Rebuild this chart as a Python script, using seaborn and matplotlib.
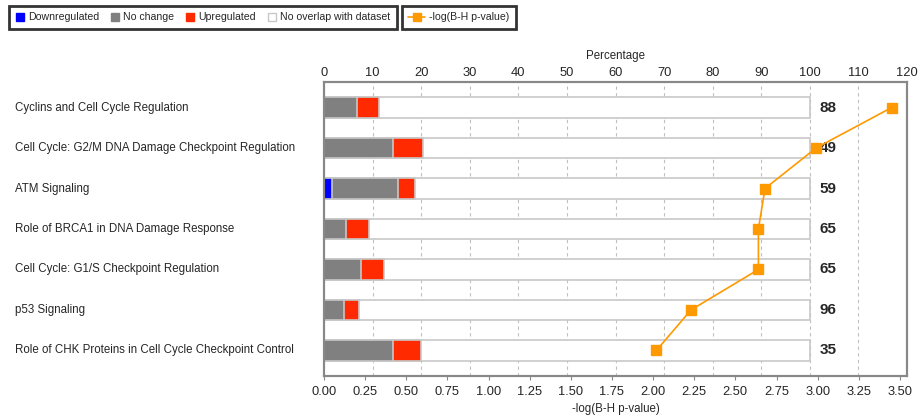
import numpy as np
import pandas as pd
import matplotlib
matplotlib.use("Agg")
import matplotlib.pyplot as plt
from matplotlib.lines import Line2D
from matplotlib.transforms import blended_transform_factory
import seaborn as sb

### DATA
pathways = [
    "Cyclins and Cell Cycle Regulation",
    "Cell Cycle: G2/M DNA Damage Checkpoint Regulation",
    "ATM Signaling",
    "Role of BRCA1 in DNA Damage Response",
    "Cell Cycle: G1/S Checkpoint Regulation",
    "p53 Signaling",
    "Role of CHK Proteins in Cell Cycle Checkpoint Control",
]
downregulated = [0.0, 0.0, 1.7, 0.0, 0.0, 0.0, 0.0]
no_change = [6.8, 14.3, 13.6, 4.6, 7.7, 4.2, 14.3]
upregulated = [4.5, 6.1, 3.4, 4.6, 4.6, 3.1, 5.7]
total_genes = [88, 49, 59, 65, 65, 96, 35]
neg_log_p = [3.45, 2.99, 2.68, 2.64, 2.64, 2.23, 2.02]

C_BLUE = "#0000ff"
C_GRAY = "#808080"
C_RED = "#ff2a00"
C_ORANGE = "#ff9900"
C_EDGE = "#c8c8c8"
C_AXIS = "#888888"
FS = 8.3      # pathway names / axis titles
FS_TICK = 9.3
FS_LEG = 7.6

sb.set_style("white")
plt.rcParams["font.family"] = ["Liberation Sans", "DejaVu Sans"]

df = pd.DataFrame({
    "pathway": pathways,
    "down": downregulated,
    "nochange": no_change,
    "up": upregulated,
})
df["cum_gray"] = df["down"] + df["nochange"]
df["cum_red"] = df["cum_gray"] + df["up"]
df["full"] = 100.0

fig = plt.figure(figsize=(9.19, 4.18), dpi=100)
ax = fig.add_axes([324 / 919, 1 - 376 / 418, 583 / 919, 294 / 418])
ax2 = ax.twiny()

# stacked bars, longest first
layers = [("full", "white"), ("cum_red", C_RED), ("cum_gray", C_GRAY), ("down", C_BLUE)]
for col, colr in layers:
    sb.barplot(data=df, x=col, y="pathway", orient="h", color=colr, width=0.5,
               edgecolor=C_EDGE, linewidth=1.2, ax=ax, saturation=1)

ax.set_xlim(0, 120)
ax.set_ylim(6.63, -0.63)
ax.set_xticks(np.arange(0, 121, 10))
ax.xaxis.tick_top()
ax.xaxis.set_label_position("top")
ax.set_xlabel("Percentage", fontsize=FS, labelpad=6)
ax.set_ylabel("")
ax.set_yticks([])
ax.tick_params(axis="x", labelsize=FS_TICK, length=0, pad=2)
ax.grid(axis="x", linestyle=(0, (3, 3)), color="#c0c0c0", linewidth=0.8)
ax.set_axisbelow(True)
for s in ax.spines.values():
    s.set_color(C_AXIS)
    s.set_linewidth(1.5)

# pathway labels and gene counts
lab_tr = blended_transform_factory(fig.transFigure, ax.transData)
for i, (name, n) in enumerate(zip(pathways, total_genes)):
    ax.text(15 / 919, i, name, transform=lab_tr, ha="left", va="center", fontsize=FS)
    ax.text(102, i, str(n), ha="left", va="center", fontsize=11, fontweight="bold")

# -log p line on bottom axis
ax2.plot(neg_log_p, np.arange(len(pathways)), color=C_ORANGE, marker="s",
         markersize=6.5, linewidth=1.2, zorder=5)
ax2.set_xlim(0, 3.543)
ax2.set_ylim(6.63, -0.63)
ticks2 = np.arange(0, 3.51, 0.25)
ax2.set_xticks(ticks2)
ax2.set_xticklabels([f"{v:.2f}" for v in ticks2])
ax2.xaxis.tick_bottom()
ax2.xaxis.set_label_position("bottom")
ax2.set_xlabel("-log(B-H p-value)", fontsize=FS, labelpad=4)
ax2.tick_params(axis="x", labelsize=FS_TICK, length=3, color=C_AXIS, pad=4)
for s in ax2.spines.values():
    s.set_color(C_AXIS)
    s.set_linewidth(1.5)

# legends
h1 = [Line2D([], [], linestyle="none", marker="s", markersize=5.5, markerfacecolor=c,
             markeredgecolor=e) for c, e in
      [(C_BLUE, C_BLUE), (C_GRAY, C_GRAY), (C_RED, C_RED), ("white", C_EDGE)]]
leg1 = fig.legend(h1, ["Downregulated", "No change", "Upregulated", "No overlap with dataset"],
                  loc="upper left", bbox_to_anchor=(9 / 919, 1 - 6 / 418), ncol=4,
                  fontsize=FS_LEG, frameon=True, fancybox=False, handlelength=0.8,
                  handletextpad=0.4, columnspacing=1.1, borderpad=0.6, borderaxespad=0)
leg1.get_frame().set_edgecolor("black")
leg1.get_frame().set_linewidth(2)
h2 = [Line2D([], [], color=C_ORANGE, marker="s", markersize=5.5, linewidth=1.2)]
leg2 = fig.legend(h2, ["-log(B-H p-value)"], loc="upper left",
                  bbox_to_anchor=(402 / 919, 1 - 6 / 418), fontsize=FS_LEG, frameon=True,
                  fancybox=False, handlelength=1.6, handletextpad=0.4, borderpad=0.6,
                  borderaxespad=0)
leg2.get_frame().set_edgecolor("black")
leg2.get_frame().set_linewidth(2)

fig.savefig("out.png", dpi=100)
